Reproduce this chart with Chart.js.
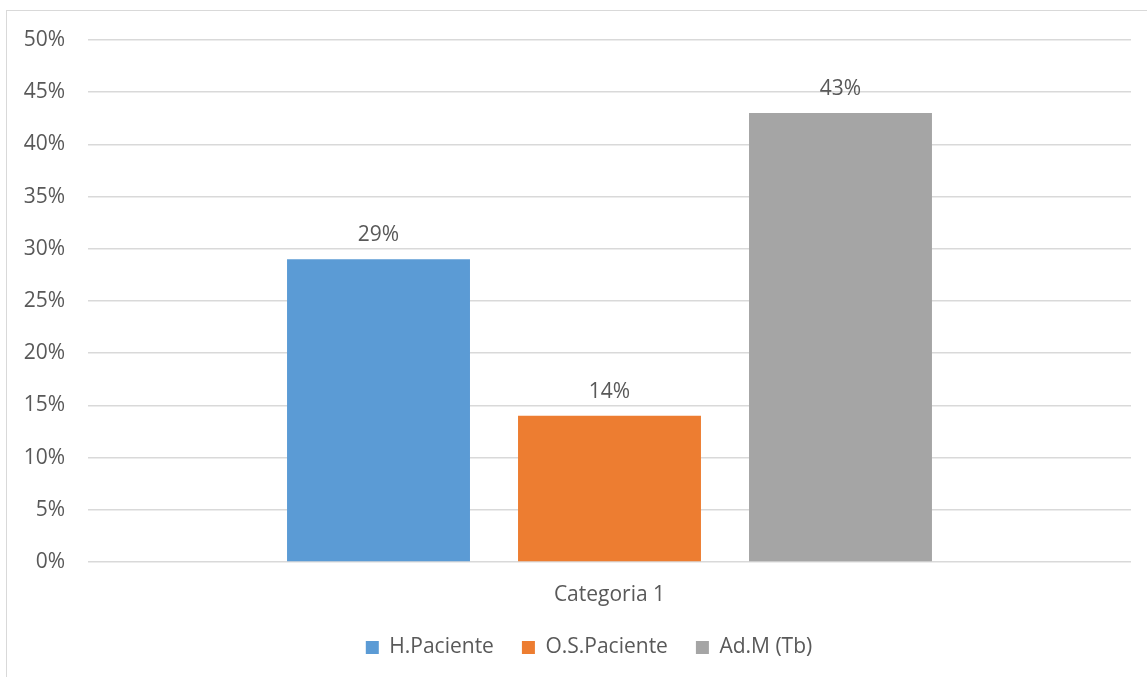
<!DOCTYPE html>
<html>
<head>
<meta charset="utf-8">
<script src="https://cdn.jsdelivr.net/npm/chart.js@4"></script>
<style>
  html, body { margin: 0; padding: 0; background: #fff; overflow: hidden; }
  #frame { position: absolute; left: 6px; top: 10px; width: 2000px; height: 2000px; border: 1px solid #d9d9d9; }
  #wrap { position: absolute; left: 0; top: 0; width: 1147px; height: 677px; }
</style>
</head>
<body>
<div id="frame"></div>
<div id="wrap"><canvas id="myChart"></canvas></div>
<script>
  // Datos del gráfico
  const categories = ['Categoria 1'];
  const seriesNames = ['H.Paciente', 'O.S.Paciente', 'Ad.M (Tb)'];
  const seriesValues = [[29], [14], [43]];
  const seriesColors = ['#5B9BD5', '#ED7D31', '#A5A5A5'];
  const yTicks = [0, 5, 10, 15, 20, 25, 30, 35, 40, 45, 50];

  const textColor = '#595959';
  const fontFamily = '"Open Sans", "DejaVu Sans", sans-serif';
  const fontSize = 21;
  const legendCenterX = 589;

  // Etiquetas de valor encima de cada barra
  const valueLabels = {
    id: 'valueLabels',
    afterDatasetsDraw(chart) {
      const ctx = chart.ctx;
      ctx.save();
      ctx.font = fontSize + 'px ' + fontFamily;
      ctx.fillStyle = textColor;
      ctx.textAlign = 'center';
      ctx.textBaseline = 'middle';
      chart.data.datasets.forEach((ds, i) => {
        chart.getDatasetMeta(i).data.forEach((bar, j) => {
          ctx.fillText(ds.data[j] + '%', bar.x, bar.y - 24);
        });
      });
      ctx.restore();
    }
  };

  // Mover la leyenda para centrarla donde está en el original
  const legendShift = {
    id: 'legendShift',
    afterLayout(chart) {
      const lg = chart.legend;
      const dx = legendCenterX - (lg.left + lg.right) / 2;
      lg.left += dx;
      lg.right += dx;
    }
  };

  const ctx = document.getElementById('myChart').getContext('2d');
  new Chart(ctx, {
    type: 'bar',
    data: {
      labels: categories,
      datasets: seriesNames.map((name, i) => ({
        label: name,
        data: seriesValues[i],
        backgroundColor: seriesColors[i],
        borderWidth: 0,
        categoryPercentage: 0.6644,
        barPercentage: 0.792,
      })),
    },
    options: {
      responsive: true,
      maintainAspectRatio: false,
      animation: false,
      layout: { padding: { top: 40, right: 16, bottom: 9, left: 0 } },
      plugins: {
        legend: {
          position: 'bottom',
          labels: {
            boxWidth: 13,
            boxHeight: 13,
            padding: 28,
            color: textColor,
            font: { size: fontSize, family: fontFamily },
          },
        },
        tooltip: { enabled: false },
      },
      scales: {
        x: {
          afterFit(scale) { scale.height = 47; },
          grid: { display: false, drawTicks: false },
          border: { display: false },
          ticks: { color: textColor, padding: 20, font: { size: fontSize, family: fontFamily } },
        },
        y: {
          min: 0,
          max: 50,
          afterFit(scale) { scale.width = 88; },
          afterBuildTicks(scale) { scale.ticks = yTicks.map(v => ({ value: v })); },
          grid: { color: '#d9d9d9', lineWidth: 1.5, drawTicks: false },
          border: { display: false },
          ticks: {
            color: textColor,
            padding: 23,
            font: { size: fontSize, family: fontFamily },
            callback: v => v + '%',
          },
        },
      },
    },
    plugins: [valueLabels, legendShift],
  });
</script>
</body>
</html>
